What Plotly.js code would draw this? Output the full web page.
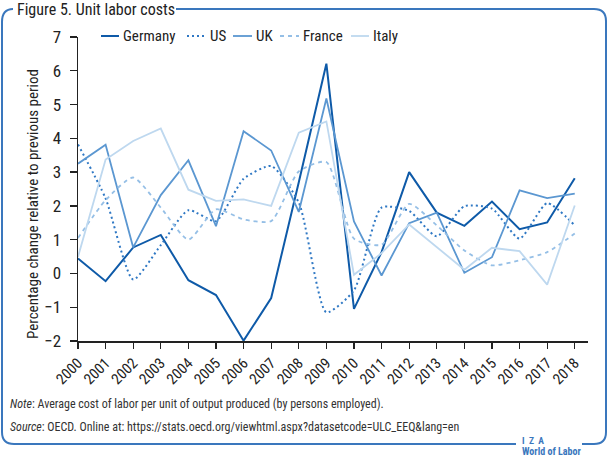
<!DOCTYPE html>
<html>
<head>
<meta charset="utf-8">
<script src="https://cdn.plot.ly/plotly-3.0.1.min.js"></script>
<style>
html,body{margin:0;padding:0;background:#fff;}
#chart{width:608px;height:459px;}
</style>
</head>
<body>
<div id="chart"></div>
<script>
const years = [2000,2001,2002,2003,2004,2005,2006,2007,2008,2009,2010,2011,2012,2013,2014,2015,2016,2017,2018];
const yearLabels = years.map(String);
const germany = [0.44,-0.23,0.77,1.14,-0.20,-0.64,-1.99,-0.73,2.70,6.21,-1.05,0.63,3.00,1.80,1.41,2.13,1.31,1.51,2.82];
const us      = [3.82,2.22,-0.18,0.84,1.87,1.55,2.80,3.18,2.10,-1.15,-0.50,1.95,1.85,1.10,1.99,1.92,1.03,2.08,1.42];
const uk      = [3.25,3.81,0.77,2.32,3.35,1.40,4.21,3.64,1.82,5.18,1.54,-0.06,1.49,1.80,0.02,0.48,2.46,2.23,2.36];
const france  = [1.05,2.17,2.84,1.95,1.00,1.90,1.60,1.55,3.02,3.30,1.03,0.85,2.06,1.42,0.68,0.24,0.39,0.63,1.18];
const italy   = [0.49,3.37,3.92,4.29,2.48,2.15,2.19,2.00,4.17,4.50,-0.04,0.60,1.45,0.78,0.11,0.76,0.66,-0.33,2.01];
const seriesNames = ["Germany","US","UK","France","Italy"];
const yTicks = [-2,-1,0,1,2,3,4,5,6,7];

const FONT = '"Liberation Sans Narrow", "Roboto Condensed", "DejaVu Sans Condensed", "Arial Narrow", sans-serif';
const colors = {Germany:"#0e5aa8", US:"#2f78c4", UK:"#5b97d1", France:"#95bfe6", Italy:"#bed8ef"};
const dashes = {Germany:"solid", US:"2px,3px", UK:"solid", France:"4px,4px", Italy:"solid"};
const widths = {Germany:2, US:2, UK:1.8, France:1.8, Italy:1.8};
const dataMap = {Germany:germany, US:us, UK:uk, France:france, Italy:italy};

const traces = seriesNames.map(n => ({
  type:"scatter", mode:"lines", name:n, x:years, y:dataMap[n], showlegend:false,
  line:{color:colors[n], width:widths[n], dash:dashes[n],
        shape:(n==="US"||n==="France")?"spline":"linear", smoothing:0.6}
}));

// pixel -> paper helpers (plot area: x 78..588, y 37..341)
const L=78, R=588, T=37, B=341;
const px = v => (v-L)/(R-L);
const py = v => (B-v)/(B-T);

const shapes = [];
const annotations = [];

// custom legend
const legendItems = [
  {n:"Germany", x0:101, x1:119},
  {n:"US", x0:187, x1:206},
  {n:"UK", x0:233, x1:252},
  {n:"France", x0:280, x1:299},
  {n:"Italy", x0:351, x1:369}
];
const legY = 36;
legendItems.forEach(it => {
  shapes.push({type:"line", xref:"paper", yref:"paper", x0:px(it.x0), x1:px(it.x1), y0:py(legY), y1:py(legY),
    line:{color:colors[it.n], width:widths[it.n], dash:dashes[it.n]}});
  annotations.push({xref:"paper", yref:"paper", x:px(it.x1+2), y:py(legY), xanchor:"left", yanchor:"middle",
    text:it.n, showarrow:false, font:{family:FONT, size:15, color:"#222"}});
});

function P(x,y){ return px(x)+","+py(y); }
// frame
shapes.push({type:"path", xref:"paper", yref:"paper", layer:"above",
  path:"M"+P(176,9)+" L"+P(594,9)+" Q"+P(606,9)+" "+P(606,21)+" L"+P(606,432)+" Q"+P(606,444)+" "+P(594,444)+" L"+P(582,444),
  line:{color:"#3a77bd", width:2}});
shapes.push({type:"path", xref:"paper", yref:"paper", layer:"above",
  path:"M"+P(516,444)+" L"+P(14,444)+" Q"+P(2,444)+" "+P(2,432)+" L"+P(2,22)+" Q"+P(2,9)+" "+P(13,9),
  line:{color:"#3a77bd", width:2}});

// title
annotations.push({xref:"paper", yref:"paper", x:px(15), y:py(9), xanchor:"left", yanchor:"middle",
  text:"Figure 5. Unit labor costs", showarrow:false, font:{family:FONT, size:16, color:"#222"}});
// y axis title
annotations.push({xref:"paper", yref:"paper", x:px(33), y:py(204), xanchor:"center", yanchor:"middle", textangle:-90,
  text:"Percentage change relative to previous period", showarrow:false, font:{family:FONT, size:15, color:"#222"}});
// notes
annotations.push({xref:"paper", yref:"paper", x:px(8), y:py(404), xanchor:"left", yanchor:"middle",
  text:"<i>Note</i>: Average cost of labor per unit of output produced (by persons employed).", showarrow:false,
  font:{family:FONT, size:12, color:"#333"}});
annotations.push({xref:"paper", yref:"paper", x:px(8), y:py(427), xanchor:"left", yanchor:"middle",
  text:"<i>Source</i>: OECD. Online at: https://stats.oecd.org/viewhtml.aspx?datasetcode=ULC_EEQ&amp;lang=en", showarrow:false,
  font:{family:FONT, size:12, color:"#333"}});
// logo
annotations.push({xref:"paper", yref:"paper", x:px(520), y:py(440.5), xanchor:"left", yanchor:"middle",
  text:"<b>I  Z  A</b>", showarrow:false, font:{family:FONT, size:9.5, color:"#3a77bd"}});
annotations.push({xref:"paper", yref:"paper", x:px(520), y:py(451), xanchor:"left", yanchor:"middle",
  text:"<b>World of Labor</b>", showarrow:false, font:{family:FONT, size:10, color:"#3a77bd"}});

const layout = {
  width:608, height:459,
  margin:{l:L, r:608-R, t:T, b:459-B, pad:0},
  paper_bgcolor:"#fff", plot_bgcolor:"#fff",
  showlegend:false,
  font:{family:FONT, color:"#222"},
  xaxis:{range:[2000,2018.48], tickmode:"array", tickvals:years, ticktext:yearLabels, tickangle:-45,
    showgrid:false, zeroline:false, showline:true, linecolor:"#222", linewidth:1.5,
    ticks:"outside", ticklen:6, tickcolor:"#222", tickwidth:1.3,
    tickfont:{family:FONT, size:15, color:"#222"}, fixedrange:true},
  yaxis:{range:[-2,7], tickmode:"array", tickvals:yTicks, showgrid:false, zeroline:false, showline:true,
    linecolor:"#222", linewidth:1.5, ticks:"outside", ticklen:7, tickcolor:"#222", tickwidth:1.3,
    ticklabelstandoff:5,
    tickfont:{family:FONT, size:17, color:"#222"}, fixedrange:true},
  shapes:shapes,
  annotations:annotations
};

Plotly.newPlot("chart", traces, layout, {staticPlot:true, displayModeBar:false});
</script>
</body>
</html>
